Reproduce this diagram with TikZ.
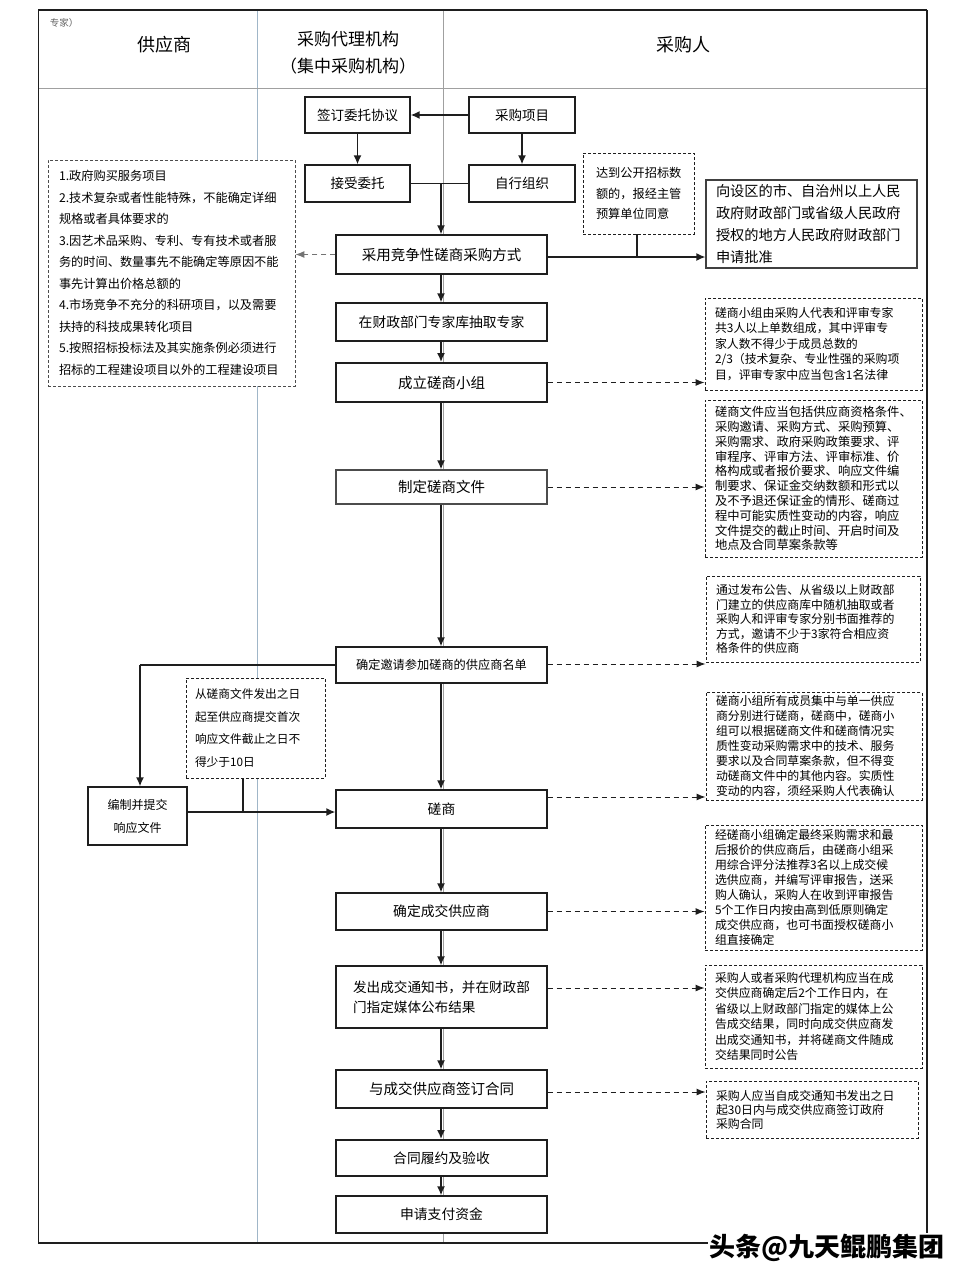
\documentclass[tikz,border=0pt]{standalone}
\usepackage{fontspec}
\setmainfont{Noto Sans CJK SC}
\usetikzlibrary{arrows.meta}
\newcommand\fz[2]{\fontsize{#1pt}{#2pt}\selectfont}
\definecolor{lane}{RGB}{160,182,200}
\definecolor{hdr}{RGB}{160,160,160}
\definecolor{ink}{RGB}{30,30,30}
\begin{document}
\begin{tikzpicture}[x=1pt,y=-1pt,
  mbox/.style={draw=ink,line width=1.1pt,fill=white,minimum width=211pt,minimum height=38pt,inner sep=2pt,font=\fz{13.8}{16}},
  sbox/.style={draw=ink,line width=1.1pt,fill=white,inner sep=2pt,font=\fz{13.5}{16}},
  note/.style={draw=ink,line width=0.9pt,dash pattern=on 3pt off 2pt,fill=white,align=left,inner xsep=10pt,inner ysep=3pt},
  arr/.style={draw=ink,line width=1.8pt,-{Latex[length=9pt,width=8pt]}},
  ln/.style={draw=ink,line width=1.8pt},
  darr/.style={draw=ink,line width=1pt,dash pattern=on 5pt off 4pt,-{Latex[length=9pt,width=7pt]}},
]
\useasboundingbox (0,0) rectangle (964,1282);
\fill[white] (0,0) rectangle (964,1282);
% frame and lanes
\draw[lane,line width=1pt] (257,10) -- (257,1243);
\draw[hdr,line width=0.8pt] (443,10) -- (443,1243);
\draw[hdr,line width=0.9pt] (38,88) -- (927,88);
\draw[ink,line width=1pt] (38,10) -- (38,1243);
\draw[ink,line width=2pt] (38,10) -- (927,10);
\draw[ink,line width=2pt] (927,10) -- (927,1243);
\draw[ink,line width=1.4pt] (38,1243) -- (927,1243);
% header
\node[font=\fz{9.5}{10},text=black!60] (h0) at (64,23) {专家）};
\node[font=\fz{18}{20}] (h1) at (164,45) {供应商};
\node[font=\fz{17}{20}] (h2a) at (348,39) {采购代理机构};
\node[font=\fz{17}{20}] (h2b) at (348,66) {（集中采购机构）};
\node[font=\fz{18}{20}] (h3) at (683,45) {采购人};
% top boxes
\node[sbox,minimum width=105pt,minimum height=36pt] (qy) at (357.5,115) {签订委托协议};
\node[sbox,minimum width=106pt,minimum height=36pt] (xm) at (522,115) {采购项目};
\node[sbox,minimum width=105pt,minimum height=37pt] (js) at (357.5,183.5) {接受委托};
\node[sbox,minimum width=106pt,minimum height=37pt] (zx) at (522,183.5) {自行组织};
% main column
\node[mbox,minimum height=39pt,font=\fz{14.5}{16}] (cy) at (441.5,254.5) {采用竞争性磋商采购方式};
\node[mbox] (zj) at (441.5,322) {在财政部门专家库抽取专家};
\node[mbox,line width=1.8pt,minimum height=39pt,font=\fz{14.5}{16}] (xz) at (441.5,382.5) {成立磋商小组};
\node[mbox,draw=black!70,minimum height=34pt,font=\fz{14.5}{16}] (zd) at (441.5,487) {制定磋商文件};
\node[mbox,minimum height=36pt,font=\fz{12.2}{15}] (yq) at (441.5,665) {确定邀请参加磋商的供应商名单};
\node[mbox] (cs) at (441.5,809) {磋商};
\node[mbox,minimum height=37pt] (cj) at (441.5,911.5) {确定成交供应商};
\node[mbox,minimum height=62pt,align=left,font=\fz{13.6}{20}] (fc) at (441.5,997) {发出成交通知书，并在财政部\\门指定媒体公布结果};
\node[mbox,font=\fz{14.5}{16}] (ht) at (441.5,1089) {与成交供应商签订合同};
\node[mbox,line width=1.8pt,minimum height=36pt] (ly) at (441.5,1158) {合同履约及验收};
\node[mbox,minimum height=37pt] (zf) at (441.5,1214.5) {申请支付资金};
% left notes
\node[note,draw=black!70,inner xsep=11pt,text width=225pt,minimum height=226pt,font=\fz{12.2}{21.5}] (lb) at (171.5,273) {1.政府购买服务项目\\2.技术复杂或者性能特殊，不能确定详细\\规格或者具体要求的\\3.因艺术品采购、专利、专有技术或者服\\务的时间、数量事先不能确定等原因不能\\事先计算出价格总额的\\4.市场竞争不充分的科研项目，以及需要\\扶持的科技成果转化项目\\5.按照招标投标法及其实施条例必须进行\\招标的工程建设项目以外的工程建设项目};
\node[note,inner xsep=9pt,text width=121pt,minimum height=100pt,font=\fz{11.7}{22.7}] (cong) at (255.5,728) {从磋商文件发出之日\\起至供应商提交首次\\响应文件截止之日不\\得少于10日};
\node[sbox,minimum width=99pt,minimum height=58pt,align=center,font=\fz{12}{23}] (bz) at (137.5,816) {编制并提交\\响应文件};
% right notes
\node[note,inner xsep=13pt,text width=85pt,minimum height=81pt,font=\fz{12.2}{20.5}] (dd) at (638.5,193.5) {达到公开招标数\\额的，报经主管\\预算单位同意};
\node[draw=black!75,line width=1.3pt,fill=white,align=left,inner xsep=10pt,text width=191pt,minimum height=88pt,font=\fz{14.2}{21.7}] (sp) at (811.5,224) {向设区的市、自治州以上人民\\政府财政部门或省级人民政府\\授权的地方人民政府财政部门\\申请批准};
\node[note,text width=197pt,minimum height=92pt,font=\fz{11.9}{15.5}] (n1) at (813.5,344) {磋商小组由采购人代表和评审专家\\共3人以上单数组成，其中评审专\\家人数不得少于成员总数的\\2/3（技术复杂、专业性强的采购项\\目，评审专家中应当包含1名法律};
\node[note,text width=197pt,minimum height=157pt,font=\fz{12.3}{14.8}] (n2) at (813.5,478.5) {磋商文件应当包括供应商资格条件、\\采购邀请、采购方式、采购预算、\\采购需求、政府采购政策要求、评\\审程序、评审方法、评审标准、价\\格构成或者报价要求、响应文件编\\制要求、保证金交纳数额和形式以\\及不予退还保证金的情形、磋商过\\程中可能实质性变动的内容，响应\\文件提交的截止时间、开启时间及\\地点及合同草案条款等};
\node[note,text width=194pt,minimum height=86pt,font=\fz{11.9}{14.5}] (n3) at (813,619) {通过发布公告、从省级以上财政部\\门建立的供应商库中随机抽取或者\\采购人和评审专家分别书面推荐的\\方式，邀请不少于3家符合相应资\\格条件的供应商};
\node[note,text width=196pt,minimum height=107pt,font=\fz{11.9}{15}] (n4) at (814,746.5) {磋商小组所有成员集中与单一供应\\商分别进行磋商，磋商中，磋商小\\组可以根据磋商文件和磋商情况实\\质性变动采购需求中的技术、服务\\要求以及合同草案条款，但不得变\\动磋商文件中的其他内容。实质性\\变动的内容，须经采购人代表确认};
\node[note,text width=197pt,minimum height=125pt,font=\fz{11.9}{15}] (n5) at (813.5,887.5) {经磋商小组确定最终采购需求和最\\后报价的供应商后，由磋商小组采\\用综合评分法推荐3名以上成交候\\选供应商，并编写评审报告，送采\\购人确认，采购人在收到评审报告\\5个工作日内按由高到低原则确定\\成交供应商，也可书面授权磋商小\\组直接确定};
\node[note,text width=197pt,minimum height=103pt,font=\fz{11.9}{15.5}] (n6) at (813.5,1016.5) {采购人或者采购代理机构应当在成\\交供应商确定后2个工作日内，在\\省级以上财政部门指定的媒体上公\\告成交结果，同时向成交供应商发\\出成交通知书，并将磋商文件随成\\交结果同时公告};
\node[note,text width=192pt,minimum height=57pt,font=\fz{11.9}{14}] (n7) at (812,1109.5) {采购人应当自成交通知书发出之日\\起30日内与成交供应商签订政府\\采购合同};
% connectors: top
\draw[arr] (xm.west) -- (qy.east);
\draw[arr] (qy.south) -- (js.north);
\draw[arr] (xm.south) -- (zx.north);
\coordinate (j1) at (441,183.5);
\draw[ln] (js.east) -- (zx.west);
\draw[arr] (j1) -- (j1 |- cy.north);
\draw[darr,draw=black!55] (cy.west) -- (cy.west -| lb.east);
\coordinate (j2) at (637,257);
\draw[arr,line width=1.3pt] (cy.east |- j2) -- (j2 -| sp.west);
\draw[ln,line width=1.3pt] (dd.south -| j2) -- (j2);
% main chain
\draw[arr] (cy.south -| j1) -- (zj.north -| j1);
\draw[arr] (zj.south -| j1) -- (xz.north -| j1);
\draw[arr] (xz.south -| j1) -- (zd.north -| j1);
\draw[arr] (zd.south -| j1) -- (yq.north -| j1);
\draw[arr] (yq.south -| j1) -- (cs.north -| j1);
\draw[arr] (cs.south -| j1) -- (cj.north -| j1);
\draw[arr] (cj.south -| j1) -- (fc.north -| j1);
\draw[arr] (fc.south -| j1) -- (ht.north -| j1);
\draw[arr] (ht.south -| j1) -- (ly.north -| j1);
\draw[arr] (ly.south -| j1) -- (zf.north -| j1);
% dashed notes arrows
\draw[darr] (xz.east) -- (xz.east -| n1.west);
\draw[darr] (zd.east) -- (zd.east -| n2.west);
\draw[darr] ([yshift=1pt]yq.east) -- ([yshift=1pt]yq.east -| n3.west);
\draw[darr] ([yshift=12pt]cs.east) -- ([yshift=12pt]cs.east -| n4.west);
\draw[darr] (cj.east) -- (cj.east -| n5.west);
\draw[darr] ([yshift=9pt]fc.east) -- ([yshift=9pt]fc.east -| n6.west);
\draw[darr] ([yshift=-3pt]ht.east) -- ([yshift=-3pt]ht.east -| n7.west);
% supplier branch
\coordinate (j3) at (140,665);
\draw[ln] (yq.west) -- (j3);
\draw[arr] (j3) -- (j3 |- bz.north);
\coordinate (j4) at (243,812);
\draw[arr] (bz.east |- j4) -- (j4 -| cs.west);
\draw[ln] (cong.south -| j4) -- (j4);
% watermark
\node[fill=white,inner sep=1pt,font=\fz{26}{30}\bfseries] (wm) at (827,1248) {头条@九天鲲鹏集团};
\end{tikzpicture}
\end{document}
